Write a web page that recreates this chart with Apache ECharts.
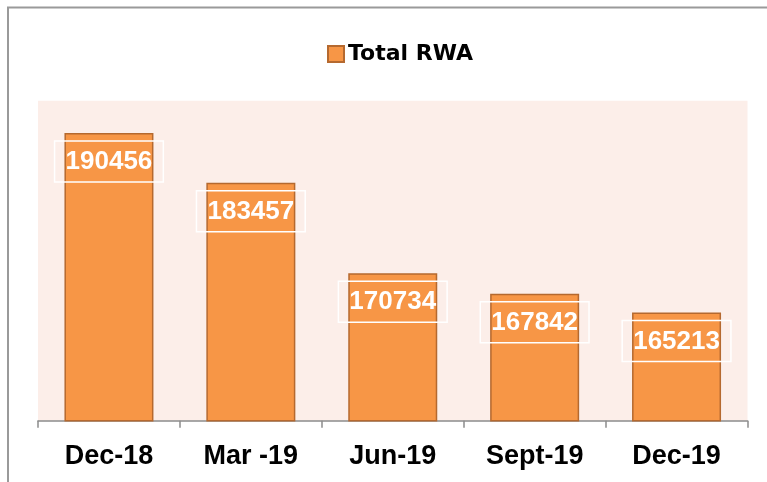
<!DOCTYPE html>
<html>
<head>
<meta charset="utf-8">
<script src="https://cdn.jsdelivr.net/npm/echarts@6/dist/echarts.min.js"></script>
<style>
html,body{margin:0;padding:0;background:#fff;}
#chart{width:767px;height:482px;}
</style>
</head>
<body>
<div id="chart"></div>
<script>
const categories = ['Dec-18', 'Mar -19', 'Jun-19', 'Sept-19', 'Dec-19'];
const seriesName = 'Total RWA';
const totalRWA = [190456, 183457, 170734, 167842, 165213];
const yMin = 150000;
const yMax = 195000;

const chart = echarts.init(document.getElementById('chart'));
chart.setOption({
  animation: false,
  backgroundColor: '#ffffff',
  graphic: [{
    type: 'polyline',
    silent: true,
    shape: { points: [[8, 482], [8, 7.5], [767, 7.5]] },
    style: { stroke: '#9a9a9a', lineWidth: 2, fill: null }
  }],
  legend: {
    left: 322,
    top: 38,
    itemWidth: 16,
    itemHeight: 16,
    itemGap: 4,
    icon: 'rect',
    textStyle: { fontFamily: 'DejaVu Sans', fontWeight: 'bold', fontSize: 22, color: '#000', padding: [0, 0, 0, -1] },
    data: [seriesName]
  },
  grid: {
    left: 38,
    right: 19.5,
    top: 100.7,
    bottom: 61.3,
    show: true,
    backgroundColor: '#FCEEE9',
    borderWidth: 0
  },
  xAxis: {
    type: 'category',
    data: categories,
    axisLine: { lineStyle: { color: '#8c8c8c', width: 1.5 } },
    axisTick: { show: true, length: 7, lineStyle: { color: '#8c8c8c', width: 1.5 } },
    axisLabel: {
      color: '#000',
      fontFamily: 'Liberation Sans',
      fontWeight: 'bold',
      fontSize: 27,
      margin: 22
    }
  },
  yAxis: {
    type: 'value',
    min: yMin,
    max: yMax,
    show: false,
    splitLine: { show: false }
  },
  series: [{
    name: seriesName,
    type: 'bar',
    data: totalRWA,
    barWidth: 89,
    itemStyle: { color: '#F79646', borderColor: '#B5692F', borderWidth: 1.5 },
    label: {
      show: true,
      position: 'insideTop',
      distance: 8,
      color: '#fff',
      fontFamily: 'Liberation Sans',
      fontWeight: 'bold',
      fontSize: 26,
      lineHeight: 26,
      padding: [8, 11, 7, 11],
      borderColor: '#ffffff',
      borderWidth: 1.5
    }
  }]
});
</script>
</body>
</html>
